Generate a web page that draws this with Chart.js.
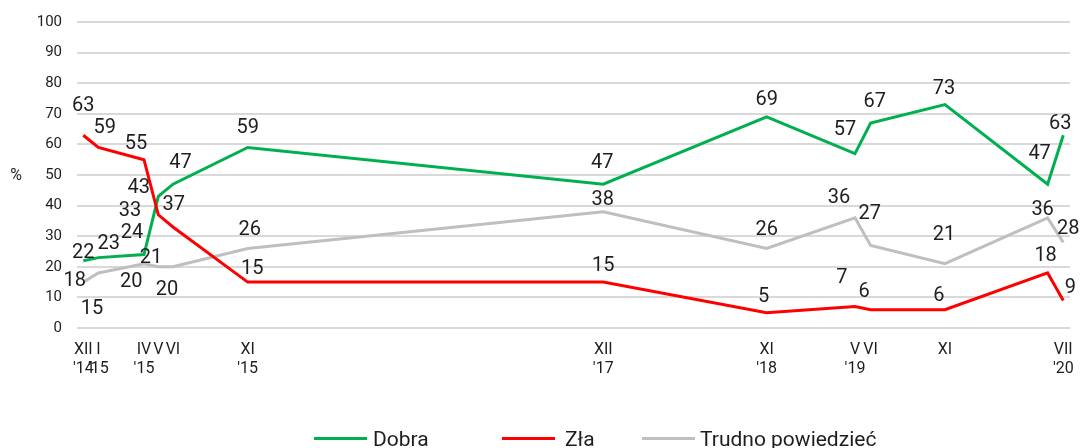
<!DOCTYPE html>
<html>
<head>
<meta charset="utf-8">
<script src="https://cdn.jsdelivr.net/npm/chart.js@4.4.1/dist/chart.umd.min.js"></script>
<style>
html,body{margin:0;padding:0;background:#fff;}
#wrap{width:1082px;height:448px;position:relative;}
</style>
</head>
<body>
<div id="wrap"><canvas id="c"></canvas></div>
<script>
// Survey dates as months since December 2014
const surveyMonths = [0, 1.03, 4.15, 5.13, 6.13, 11.24, 35.55, 46.72, 52.76, 53.83, 58.91, 65.93, 67];
// Positions of the labelled ticks (the VI '20 survey has no label)
const tickMonths = [0, 1.03, 4.15, 5.13, 6.13, 11.24, 35.55, 46.72, 52.76, 53.83, 58.91, 67];
const tickLabels = [["XII", "'14"], ["I", "'15"], ["IV", "'15"], ["V"], ["VI"], ["XI", "'15"], ["XII", "'17"], ["XI", "'18"], ["V", "'19"], ["VI"], ["XI"], ["VII", "'20"]];
const seriesNames = ["Dobra", "Zła", "Trudno powiedzieć"];
const dobra  = [22, 23, 24, 43, 47, 59, 47, 69, 57, 67, 73, 47, 63];
const zla    = [63, 59, 55, 37, 33, 15, 15, 5, 7, 6, 6, 18, 9];
const trudno = [15, 18, 21, 20, 20, 26, 38, 26, 36, 27, 21, 36, 28];
const yTicks = [0, 10, 20, 30, 40, 50, 60, 70, 80, 90, 100];

// ---- styling (not data) ----
const colors = ["#00b050", "#ff0000", "#bfbfbf"];
const labelOffsets = [
  [[0,-10],[10.5,-15.5],[-12,-24],[-19.6,-10.7],[7.5,-23.5],[0,-21.4],[-1,-23],[0,-19],[-10,-26],[4,-23.5],[-1,-18],[-8,-32],[-3,-13.6]],
  [[0,-31.5],[6.4,-21.4],[-8,-18],[15.5,-12],[-43,-18],[4.5,-15],[0,-18],[-3,-18],[-13,-31],[-6.5,-19.7],[-6,-16],[-2,-19],[7,-15]],
  [[8.7,24.6],[-23.6,6],[7,-8],[-27,13],[-6,21.5],[2,-21],[-0.5,-14],[0,-21],[-16,-22],[-1,-33],[-1,-30.5],[-5,-9.6],[5,-15]]
];
const legendLayout = [
  {lineX: 314, textX: 373},
  {lineX: 502, textX: 565},
  {lineX: 642, textX: 700}
];
const TEXT = "#1e1e1e";

const valueLabels = {
  id: 'valueLabels',
  afterDatasetsDraw(chart) {
    const ctx = chart.ctx;
    ctx.save();
    ctx.font = "20px Roboto";
    ctx.fillStyle = TEXT;
    ctx.textAlign = "center";
    ctx.textBaseline = "alphabetic";
    chart.data.datasets.forEach((ds, di) => {
      const meta = chart.getDatasetMeta(di);
      meta.data.forEach((pt, i) => {
        const off = labelOffsets[di][i];
        ctx.fillText(String(ds.data[i].y), pt.x + off[0], pt.y + off[1] + 7.1);
      });
    });
    ctx.restore();
  }
};

const customLegend = {
  id: 'customLegend',
  afterDraw(chart) {
    const ctx = chart.ctx;
    ctx.save();
    chart.data.datasets.forEach((ds, di) => {
      const L = legendLayout[di];
      ctx.strokeStyle = ds.borderColor;
      ctx.lineWidth = 3;
      ctx.beginPath();
      ctx.moveTo(L.lineX, 438.5);
      ctx.lineTo(L.lineX + 53, 438.5);
      ctx.stroke();
      ctx.font = "21px Roboto";
      ctx.fillStyle = TEXT;
      ctx.textAlign = "left";
      ctx.textBaseline = "alphabetic";
      ctx.fillText(ds.label, L.textX, 445.5);
    });
    // y axis unit
    ctx.font = "16px Roboto";
    ctx.textAlign = "center";
    ctx.textBaseline = "middle";
    ctx.fillStyle = TEXT;
    const ca = chart.chartArea;
    ctx.fillText("%", 16, (ca.top + ca.bottom) / 2 + 1);
    ctx.restore();
  }
};

function pts(values) { return surveyMonths.map((x, i) => ({x: x, y: values[i]})); }

new Chart(document.getElementById('c'), {
  type: 'line',
  data: {
    datasets: [
      {label: seriesNames[0], data: pts(dobra),  borderColor: colors[0], order: 1},
      {label: seriesNames[1], data: pts(zla),    borderColor: colors[1], order: 0},
      {label: seriesNames[2], data: pts(trudno), borderColor: colors[2], order: 2}
    ]
  },
  options: {
    responsive: true,
    maintainAspectRatio: false,
    animation: false,
    layout: {padding: {left: 0, right: 12, top: 22, bottom: 0}},
    elements: {
      point: {radius: 0, hoverRadius: 0},
      line: {borderWidth: 3, tension: 0, fill: false, borderJoinStyle: 'miter'}
    },
    plugins: {legend: {display: false}, tooltip: {enabled: false}},
    scales: {
      x: {
        type: 'linear',
        min: -0.43,
        max: 67.46,
        bounds: 'data',
        afterBuildTicks: s => { s.ticks = tickMonths.map(v => ({value: v})); },
        afterFit: s => { s.height = 120; s.paddingLeft = 0; s.paddingRight = 0; },
        grid: {display: false, drawTicks: false},
        border: {display: false},
        ticks: {
          autoSkip: false, maxRotation: 0, minRotation: 0, padding: 13,
          color: TEXT,
          font: {family: 'Roboto', size: 16, lineHeight: 1.18},
          callback: (v, i) => tickLabels[i]
        }
      },
      y: {
        min: 0,
        max: 100,
        afterBuildTicks: s => { s.ticks = yTicks.map(v => ({value: v})); },
        afterFit: s => { s.width = 77; s.paddingTop = 0; s.paddingBottom = 0; },
        grid: {color: '#d9d9d9', lineWidth: 2, drawTicks: false},
        border: {display: false},
        ticks: {padding: 15, color: TEXT, font: {family: 'Roboto', size: 15}}
      }
    }
  },
  plugins: [valueLabels, customLegend]
});
</script>
</body>
</html>
